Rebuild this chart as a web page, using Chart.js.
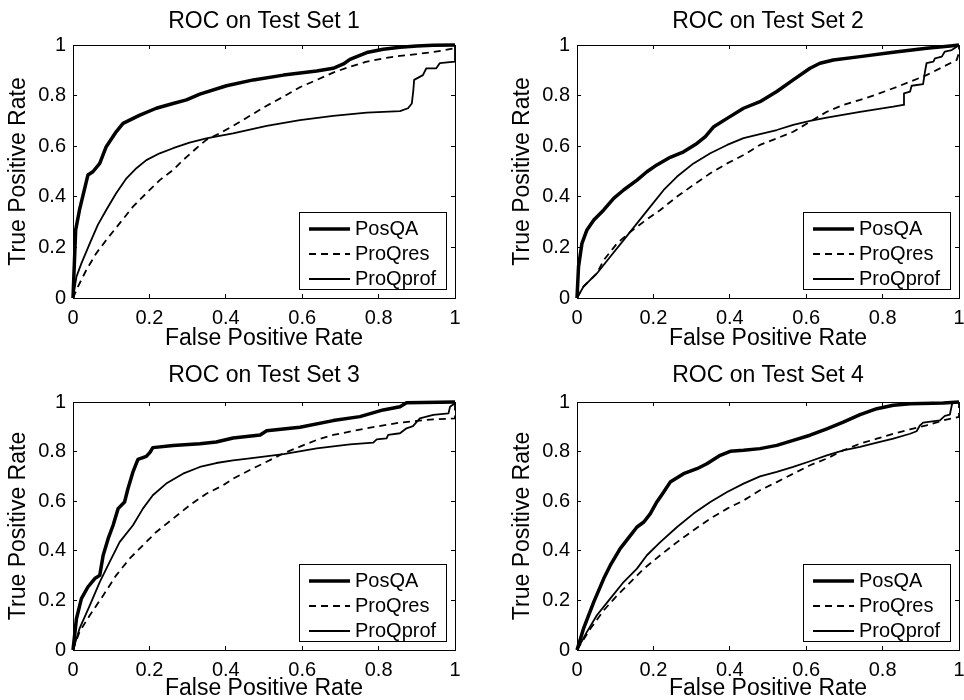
<!DOCTYPE html>
<html lang="en">

<head>
    <meta charset="UTF-8">
    <title>ROC on Test Sets</title>
    <script src="https://cdn.jsdelivr.net/npm/chart.js"></script>
    <style>
        body {
            margin: 0;
            background: #fff;
        }

        .grid_roc {
            position: relative;
            width: 964px;
            height: 700px;
        }

        .grid_roc canvas {
            position: absolute;
        }
    </style>
</head>

<body>
    <div class="grid_roc">
        <canvas id="roc1" width="482" height="350" style="left:0;top:0"></canvas>
        <canvas id="roc2" width="482" height="350" style="left:482px;top:0"></canvas>
        <canvas id="roc3" width="482" height="350" style="left:0;top:350px"></canvas>
        <canvas id="roc4" width="482" height="350" style="left:482px;top:350px"></canvas>
    </div>

    <script>
        const titles = ['ROC on Test Set 1', 'ROC on Test Set 2', 'ROC on Test Set 3', 'ROC on Test Set 4'];
        const seriesNames = ['PosQA', 'ProQres', 'ProQprof'];
        const tickValues = [0, 0.2, 0.4, 0.6, 0.8, 1];
        const tickLabels = ['0', '0.2', '0.4', '0.6', '0.8', '1'];

        // test set 1
        const fpr1PosQA = [0, 0.007, 0.017, 0.039, 0.052, 0.07, 0.087, 0.113, 0.131, 0.175, 0.218, 0.262, 0.297, 0.332, 0.402, 0.472, 0.551, 0.638, 0.681, 0.708, 0.725, 0.769, 0.812, 0.856, 0.9, 0.943, 1];
        const tpr1PosQA = [0, 0.269, 0.348, 0.486, 0.499, 0.532, 0.598, 0.657, 0.69, 0.723, 0.75, 0.769, 0.783, 0.806, 0.839, 0.862, 0.881, 0.897, 0.908, 0.925, 0.943, 0.97, 0.983, 0.991, 0.996, 0.999, 1];
        const fpr1ProQres = [0, 0.013, 0.035, 0.061, 0.087, 0.122, 0.157, 0.192, 0.227, 0.262, 0.288, 0.323, 0.349, 0.384, 0.419, 0.463, 0.507, 0.551, 0.594, 0.638, 0.681, 0.725, 0.769, 0.812, 0.856, 0.9, 0.943, 1, 1];
        const tpr1ProQres = [0, 0.045, 0.111, 0.177, 0.229, 0.295, 0.361, 0.414, 0.466, 0.506, 0.545, 0.592, 0.625, 0.651, 0.68, 0.72, 0.76, 0.796, 0.833, 0.862, 0.891, 0.914, 0.934, 0.947, 0.957, 0.964, 0.972, 0.987, 1];
        const fpr1ProQprof = [0, 0.009, 0.022, 0.044, 0.065, 0.087, 0.113, 0.14, 0.166, 0.192, 0.227, 0.262, 0.305, 0.349, 0.419, 0.507, 0.594, 0.681, 0.769, 0.856, 0.877, 0.887, 0.891, 0.893, 0.916, 0.925, 0.951, 0.96, 1, 1];
        const tpr1ProQprof = [0, 0.084, 0.137, 0.216, 0.289, 0.348, 0.414, 0.473, 0.513, 0.545, 0.572, 0.592, 0.614, 0.631, 0.651, 0.68, 0.703, 0.72, 0.733, 0.739, 0.75, 0.769, 0.822, 0.862, 0.881, 0.908, 0.908, 0.928, 0.934, 1];

        // test set 2
        const fpr2PosQA = [0, 0.004, 0.013, 0.026, 0.044, 0.07, 0.096, 0.122, 0.157, 0.183, 0.209, 0.244, 0.279, 0.314, 0.336, 0.358, 0.393, 0.436, 0.479, 0.523, 0.566, 0.61, 0.636, 0.671, 0.741, 0.828, 0.915, 0.977, 1];
        const tpr2PosQA = [0, 0.124, 0.216, 0.269, 0.308, 0.348, 0.394, 0.427, 0.466, 0.499, 0.526, 0.556, 0.578, 0.611, 0.638, 0.677, 0.71, 0.75, 0.776, 0.816, 0.862, 0.908, 0.928, 0.941, 0.954, 0.971, 0.987, 0.996, 1];
        const fpr2ProQres = [0, 0.017, 0.052, 0.07, 0.105, 0.14, 0.175, 0.218, 0.262, 0.305, 0.349, 0.393, 0.436, 0.479, 0.523, 0.566, 0.61, 0.654, 0.697, 0.741, 0.785, 0.828, 0.872, 0.915, 0.959, 0.994, 1, 1];
        const tpr2ProQres = [0, 0.045, 0.097, 0.15, 0.216, 0.262, 0.302, 0.348, 0.401, 0.447, 0.493, 0.532, 0.565, 0.605, 0.631, 0.657, 0.697, 0.736, 0.763, 0.783, 0.805, 0.829, 0.855, 0.881, 0.914, 0.941, 0.97, 1];
        const fpr2ProQprof = [0, 0.017, 0.052, 0.087, 0.122, 0.157, 0.192, 0.227, 0.262, 0.305, 0.349, 0.393, 0.436, 0.479, 0.523, 0.566, 0.61, 0.654, 0.741, 0.828, 0.854, 0.856, 0.872, 0.876, 0.906, 0.911, 0.915, 0.933, 0.937, 0.955, 0.963, 0.981, 0.994, 1];
        const tpr2ProQprof = [0, 0.045, 0.097, 0.163, 0.229, 0.295, 0.361, 0.427, 0.48, 0.532, 0.572, 0.605, 0.632, 0.648, 0.664, 0.684, 0.7, 0.713, 0.736, 0.756, 0.763, 0.809, 0.816, 0.839, 0.845, 0.895, 0.928, 0.934, 0.947, 0.954, 0.974, 0.98, 0.993, 1];

        // test set 3
        const fpr3PosQA = [0, 0.009, 0.022, 0.039, 0.057, 0.07, 0.079, 0.092, 0.105, 0.118, 0.135, 0.144, 0.157, 0.17, 0.192, 0.202, 0.209, 0.262, 0.332, 0.375, 0.419, 0.49, 0.507, 0.594, 0.681, 0.751, 0.812, 0.856, 0.873, 1];
        const tpr3PosQA = [0, 0.126, 0.207, 0.254, 0.288, 0.301, 0.382, 0.449, 0.503, 0.57, 0.597, 0.651, 0.718, 0.769, 0.781, 0.798, 0.816, 0.825, 0.832, 0.839, 0.855, 0.867, 0.884, 0.898, 0.925, 0.941, 0.968, 0.981, 0.997, 1];
        const fpr3ProQres = [0, 0.017, 0.044, 0.079, 0.113, 0.148, 0.183, 0.218, 0.262, 0.305, 0.349, 0.393, 0.419, 0.463, 0.507, 0.551, 0.594, 0.638, 0.681, 0.769, 0.856, 0.943, 1, 1];
        const tpr3ProQres = [0, 0.073, 0.14, 0.22, 0.301, 0.368, 0.422, 0.476, 0.53, 0.583, 0.63, 0.664, 0.691, 0.726, 0.759, 0.793, 0.82, 0.847, 0.867, 0.894, 0.917, 0.93, 0.934, 1];
        const fpr3ProQprof = [0, 0.017, 0.044, 0.07, 0.096, 0.122, 0.157, 0.183, 0.209, 0.244, 0.288, 0.332, 0.375, 0.419, 0.463, 0.551, 0.638, 0.725, 0.786, 0.795, 0.821, 0.825, 0.856, 0.873, 0.89, 0.908, 0.943, 0.983, 0.987, 1, 1];
        const tpr3ProQprof = [0, 0.086, 0.18, 0.274, 0.355, 0.435, 0.503, 0.57, 0.624, 0.671, 0.711, 0.738, 0.754, 0.765, 0.773, 0.79, 0.813, 0.829, 0.836, 0.849, 0.853, 0.867, 0.874, 0.894, 0.903, 0.934, 0.948, 0.954, 0.981, 0.995, 1];

        // test set 4
        const fpr4PosQA = [0, 0.017, 0.044, 0.07, 0.087, 0.113, 0.14, 0.157, 0.175, 0.192, 0.209, 0.227, 0.244, 0.279, 0.314, 0.34, 0.375, 0.401, 0.436, 0.479, 0.523, 0.566, 0.61, 0.654, 0.697, 0.741, 0.785, 0.828, 0.872, 0.959, 1];
        const tpr4PosQA = [0, 0.086, 0.194, 0.288, 0.341, 0.409, 0.462, 0.496, 0.516, 0.55, 0.597, 0.637, 0.677, 0.711, 0.731, 0.751, 0.785, 0.801, 0.805, 0.812, 0.825, 0.845, 0.866, 0.892, 0.919, 0.949, 0.973, 0.987, 0.993, 0.996, 1];
        const fpr4ProQres = [0, 0.035, 0.07, 0.105, 0.14, 0.175, 0.218, 0.262, 0.305, 0.349, 0.393, 0.436, 0.479, 0.523, 0.566, 0.61, 0.654, 0.697, 0.741, 0.785, 0.828, 0.872, 0.915, 0.959, 1, 1];
        const tpr4ProQres = [0, 0.086, 0.16, 0.22, 0.274, 0.328, 0.382, 0.435, 0.483, 0.53, 0.57, 0.603, 0.644, 0.677, 0.711, 0.745, 0.772, 0.805, 0.832, 0.852, 0.872, 0.89, 0.906, 0.926, 0.94, 1];
        const fpr4ProQprof = [0, 0.026, 0.052, 0.087, 0.122, 0.157, 0.183, 0.218, 0.262, 0.305, 0.349, 0.393, 0.436, 0.479, 0.523, 0.566, 0.61, 0.654, 0.697, 0.741, 0.785, 0.828, 0.872, 0.889, 0.898, 0.906, 0.95, 0.963, 0.976, 0.983, 1];
        const tpr4ProQprof = [0, 0.073, 0.14, 0.207, 0.274, 0.328, 0.382, 0.435, 0.496, 0.55, 0.597, 0.637, 0.671, 0.7, 0.718, 0.738, 0.761, 0.785, 0.805, 0.819, 0.836, 0.852, 0.872, 0.882, 0.906, 0.917, 0.926, 0.944, 0.949, 1, 1];

        Chart.defaults.font.family = '"Liberation Sans", Arial, Helvetica, sans-serif';
        Chart.defaults.color = '#000';

        // legend drawn inside the plot, bottom right, like the matlab one
        const legendBox = {
            id: 'legendBox',
            afterDatasetsDraw(chart) {
                const ctx = chart.ctx;
                const area = chart.chartArea;
                const w = 147, h = 77;
                const left = Math.round(area.right - 9 - w);
                const top = Math.round(area.bottom - 9 - h);
                ctx.save();
                ctx.fillStyle = '#fff';
                ctx.fillRect(left, top, w, h);
                ctx.strokeStyle = '#000';
                ctx.lineWidth = 1;
                ctx.strokeRect(left + 0.5, top + 0.5, w, h);
                ctx.font = '20px "Liberation Sans", Arial, sans-serif';
                ctx.textBaseline = 'middle';
                chart.data.datasets.forEach(function (ds, i) {
                    const y = top + 17 + i * 25;
                    ctx.beginPath();
                    ctx.lineWidth = ds.borderWidth;
                    ctx.setLineDash(ds.borderDash);
                    ctx.moveTo(left + 10, y);
                    ctx.lineTo(left + 51, y);
                    ctx.stroke();
                    ctx.setLineDash([]);
                    ctx.fillStyle = '#000';
                    ctx.fillText(ds.label, left + 56, y);
                });
                ctx.restore();
            }
        };

        function pairs(xs, ys) {
            return xs.map(function (x, i) { return { x: x, y: ys[i] }; });
        }

        function setTicks(scale) {
            scale.ticks = tickValues.map(function (v) { return { value: v }; });
        }

        function plotRoc(canvasId, title, col, row, fprs, tprs) {
            const widths = [3.5, 1.8, 1.8];
            const dashes = [[], [7, 5], []];
            const datasets = seriesNames.map(function (name, i) {
                return {
                    label: name,
                    data: pairs(fprs[i], tprs[i]),
                    borderColor: '#000',
                    borderWidth: widths[i],
                    borderDash: dashes[i],
                    borderJoinStyle: 'round',
                    pointRadius: 0,
                    tension: 0,
                    fill: false,
                    clip: false,
                    xAxisID: 'x',
                    yAxisID: 'y'
                };
            });

            const axisLine = { color: '#000', width: 1 };
            const inwardTicks = { drawOnChartArea: false, tickLength: -4, color: '#000', lineWidth: 1 };

            new Chart(document.getElementById(canvasId), {
                type: 'line',
                data: { datasets: datasets },
                options: {
                    responsive: false,
                    animation: false,
                    devicePixelRatio: 1,
                    layout: {
                        autoPadding: false,
                        padding: col == 0 ? { left: 0, right: 27, top: 0, bottom: 0 } : { left: 22, right: 5, top: 0, bottom: 0 }
                    },
                    plugins: {
                        legend: { display: false },
                        tooltip: { enabled: false },
                        title: {
                            display: true,
                            fullSize: false,
                            text: title,
                            color: '#000',
                            font: { size: 23, weight: 'normal', lineHeight: 1.2 },
                            padding: row == 0 ? { top: 7.7, bottom: 9.7 } : { top: 11.7, bottom: 12.7 }
                        }
                    },
                    scales: {
                        x: {
                            type: 'linear', position: 'bottom', min: 0, max: 1,
                            afterBuildTicks: setTicks,
                            afterFit: function (s) { s.height = row == 0 ? 52 : 50; s.paddingLeft = 0; s.paddingRight = 0; },
                            ticks: { callback: function (v, i) { return tickLabels[i]; }, font: { size: 20 }, padding: 12, maxRotation: 0, autoSkip: false },
                            grid: inwardTicks,
                            border: axisLine,
                            title: { display: true, text: 'False Positive Rate', font: { size: 23, lineHeight: 1 }, padding: { top: 0, bottom: 0 } }
                        },
                        y: {
                            type: 'linear', position: 'left', min: 0, max: 1,
                            afterBuildTicks: setTicks,
                            afterFit: function (s) { s.width = 73; s.paddingTop = 0; s.paddingBottom = 0; },
                            ticks: { callback: function (v, i) { return tickLabels[i]; }, font: { size: 20 }, padding: 11, autoSkip: false },
                            grid: inwardTicks,
                            border: axisLine,
                            title: { display: true, text: 'True Positive Rate', font: { size: 23, lineHeight: 1 }, padding: { top: 7, bottom: 0 } }
                        },
                        x2: {
                            type: 'linear', position: 'top', min: 0, max: 1,
                            afterBuildTicks: setTicks,
                            afterFit: function (s) { s.height = 0; s.paddingLeft = 0; s.paddingRight = 0; },
                            ticks: { display: false },
                            grid: inwardTicks,
                            border: axisLine
                        },
                        y2: {
                            type: 'linear', position: 'right', min: 0, max: 1,
                            afterBuildTicks: setTicks,
                            afterFit: function (s) { s.width = 0; s.paddingTop = 0; s.paddingBottom = 0; },
                            ticks: { display: false },
                            grid: inwardTicks,
                            border: axisLine
                        }
                    }
                },
                plugins: [legendBox]
            });
        }

        plotRoc('roc1', titles[0], 0, 0, [fpr1PosQA, fpr1ProQres, fpr1ProQprof], [tpr1PosQA, tpr1ProQres, tpr1ProQprof]);
        plotRoc('roc2', titles[1], 1, 0, [fpr2PosQA, fpr2ProQres, fpr2ProQprof], [tpr2PosQA, tpr2ProQres, tpr2ProQprof]);
        plotRoc('roc3', titles[2], 0, 1, [fpr3PosQA, fpr3ProQres, fpr3ProQprof], [tpr3PosQA, tpr3ProQres, tpr3ProQprof]);
        plotRoc('roc4', titles[3], 1, 1, [fpr4PosQA, fpr4ProQres, fpr4ProQprof], [tpr4PosQA, tpr4ProQres, tpr4ProQprof]);
    </script>
</body>

</html>
